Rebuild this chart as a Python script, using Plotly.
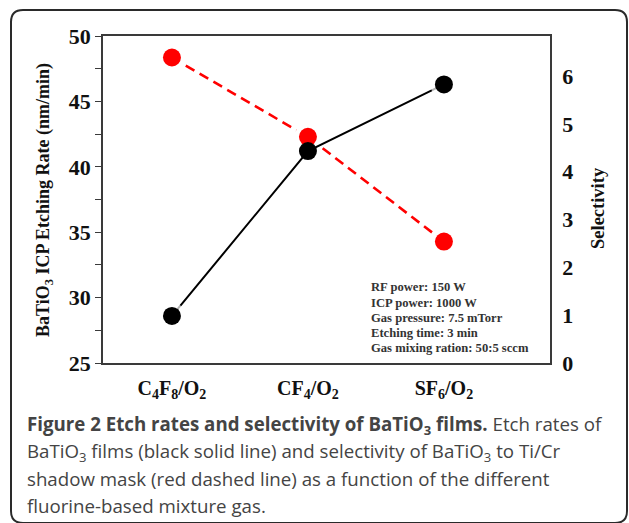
import plotly.graph_objects as go

# ---- data ----
categories = ["C<sub>4</sub>F<sub>8</sub>/O<sub>2</sub>",
              "CF<sub>4</sub>/O<sub>2</sub>",
              "SF<sub>6</sub>/O<sub>2</sub>"]
etch_rate = [28.6, 41.2, 46.3]          # nm/min (left axis)
selectivity = [6.39, 4.73, 2.54]        # right axis
etch_ticks = [25, 30, 35, 40, 45, 50]
sel_ticks = [0, 1, 2, 3, 4, 5, 6]
conditions = ["RF power: 150 W", "ICP power: 1000 W", "Gas pressure: 7.5 mTorr",
              "Etching time: 3 min", "Gas mixing ration: 50:5 sccm"]
caption_lines = [
    "<b>Figure 2 Etch rates and selectivity of BaTiO<sub>3</sub> films.</b> Etch rates of",
    "BaTiO<sub>3</sub> films (black solid line) and selectivity of BaTiO<sub>3</sub> to Ti/Cr",
    "shadow mask (red dashed line) as a function of the different",
    "fluorine-based mixture gas.",
]

W, H = 629, 523
L, R, T, B = 103, 550, 36, 363
SERIF = "Liberation Serif, Times New Roman, serif"
SANS = "Open Sans, Noto Sans, sans-serif"


def px(x):
    return (x - L) / (R - L)


def py(y):
    return (B - y) / (B - T)


fig = go.Figure()

# red: selectivity (base layer, y)
fig.add_trace(go.Scatter(x=categories, y=selectivity, yaxis="y", mode="lines",
                         line=dict(color="#ff0000", width=2.6, dash="10px,6px"),
                         hoverinfo="skip", showlegend=False))
fig.add_trace(go.Scatter(x=categories, y=selectivity, yaxis="y", mode="markers",
                         marker=dict(color="white", size=27, line=dict(width=0)),
                         hoverinfo="skip", showlegend=False))
fig.add_trace(go.Scatter(x=categories, y=selectivity, yaxis="y", mode="markers",
                         marker=dict(color="#ff0000", size=18, line=dict(width=0)),
                         showlegend=False))
# black: etch rate (overlay layer, y2)
fig.add_trace(go.Scatter(x=categories, y=etch_rate, yaxis="y2", mode="lines",
                         line=dict(color="black", width=2),
                         hoverinfo="skip", showlegend=False))
fig.add_trace(go.Scatter(x=categories, y=etch_rate, yaxis="y2", mode="markers",
                         marker=dict(color="white", size=[27, 0, 27], line=dict(width=0)),
                         hoverinfo="skip", showlegend=False))
fig.add_trace(go.Scatter(x=categories, y=etch_rate, yaxis="y2", mode="markers",
                         marker=dict(color="black", size=18, line=dict(width=0)),
                         showlegend=False))

axis_col = "#3a3a3a"
tickfont = dict(family=SERIF, size=22, color="#111", weight="bold")
fig.update_layout(
    width=W, height=H,
    margin=dict(l=L, r=W - R, t=T, b=H - B, pad=0, autoexpand=False),
    paper_bgcolor="white", plot_bgcolor="white",
    xaxis=dict(type="category", range=[-0.507, 2.78], showline=True, linecolor=axis_col,
               linewidth=1.6, mirror=True, ticks="", showgrid=False, zeroline=False,
               tickfont=dict(family=SERIF, size=20, color="#111", weight="bold"),
               ticklabelstandoff=6, automargin=False),
    yaxis=dict(range=[0, 6.84], side="right", tickvals=sel_ticks, ticks="",
               showline=True, linecolor=axis_col, linewidth=1.6, showgrid=False,
               zeroline=False, ticklabelstandoff=6, tickfont=tickfont, automargin=False),
    yaxis2=dict(range=[25, 50], side="left", overlaying="y", anchor="x",
                tickvals=etch_ticks, ticks="outside", ticklen=6, tickwidth=1.4,
                tickcolor=axis_col, showline=True, linecolor=axis_col, linewidth=1.6,
                showgrid=False, zeroline=False, automargin=False,
                minor=dict(dtick=2.5, ticks="outside", ticklen=6, tickwidth=1.4,
                           tickcolor=axis_col, showgrid=False),
                tickfont=tickfont),
    yaxis3=dict(range=[25, 50], side="right", overlaying="y", anchor="x",
                dtick=2.5, tick0=25, ticks="inside", ticklen=6, tickwidth=1.4,
                tickcolor=axis_col, showticklabels=False, showline=False,
                showgrid=False, zeroline=False, automargin=False),
)

annotations = [
    dict(x=px(45), y=py(200), xref="paper", yref="paper", textangle=-90,
         text="<b>BaTiO<sub>3</sub> ICP Etching Rate (nm/min)</b>", showarrow=False,
         font=dict(family=SERIF, size=18, color="#111"), xanchor="center", yanchor="middle"),
    dict(x=px(598), y=py(208), xref="paper", yref="paper", textangle=-90,
         text="<b>Selectivity</b>", showarrow=False,
         font=dict(family=SERIF, size=18.5, color="#111"), xanchor="center", yanchor="middle"),
]
cond_y = [287, 302.5, 318, 333, 348]
for line, yy in zip(conditions, cond_y):
    annotations.append(dict(x=px(369), y=py(yy), xref="paper", yref="paper",
                            xanchor="left", yanchor="middle", showarrow=False,
                            text="<b>" + line + "</b>",
                            font=dict(family=SERIF, size=12.6, color="#333")))
cap_y = [425, 452, 478, 505]
for line, yy in zip(caption_lines, cap_y):
    annotations.append(dict(x=px(25), y=py(yy), xref="paper", yref="paper",
                            xanchor="left", yanchor="middle", showarrow=False,
                            text=line, font=dict(family=SANS, size=18.7, color="#444")))
fig.update_layout(annotations=annotations)

# rounded frame around the figure
x0, y0, x1, y1, r = 11, 10, 627, 523, 12
path = (f"M {px(x0 + r)},{py(y0)} L {px(x1 - r)},{py(y0)} "
        f"Q {px(x1)},{py(y0)} {px(x1)},{py(y0 + r)} L {px(x1)},{py(y1 - r)} "
        f"Q {px(x1)},{py(y1)} {px(x1 - r)},{py(y1)} L {px(x0 + r)},{py(y1)} "
        f"Q {px(x0)},{py(y1)} {px(x0)},{py(y1 - r)} L {px(x0)},{py(y0 + r)} "
        f"Q {px(x0)},{py(y0)} {px(x0 + r)},{py(y0)} Z")
fig.add_shape(type="path", path=path, xref="paper", yref="paper",
              line=dict(color="#2a2a2a", width=2), layer="below")

fig.write_html("out.html", config={"displayModeBar": False},
               post_script="document.body.style.margin='0';document.body.style.overflow='hidden';")
